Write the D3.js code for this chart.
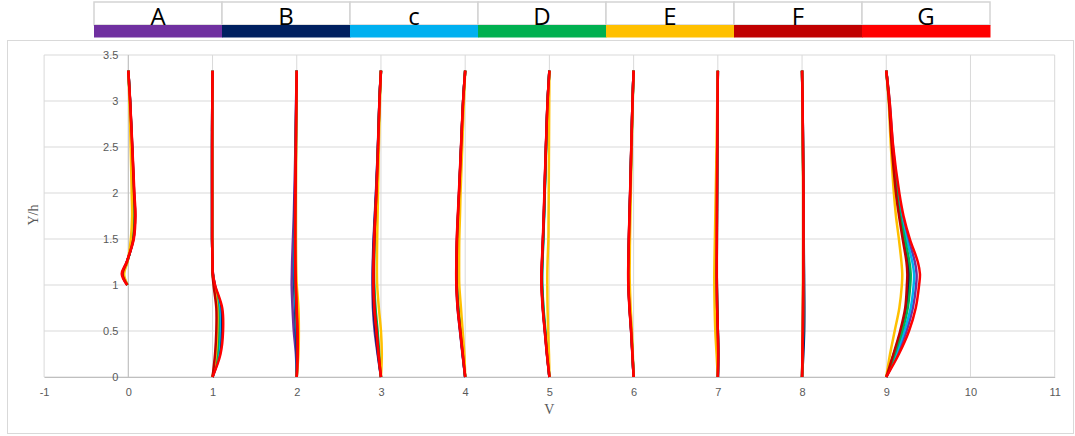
<!DOCTYPE html>
<html>
<head>
<meta charset="utf-8">
<script src="https://cdn.jsdelivr.net/npm/d3@7"></script>
<style>
  body { margin: 0; background: #fff; }
  svg { display: block; }
</style>
</head>
<body>
<svg id="chart" width="1075" height="436"></svg>
<script>
// legend names and colours
const seriesNames = ["A", "B", "c", "D", "E", "F", "G"];
const seriesColors = ["#7030A0", "#002060", "#00B0F0", "#00B050", "#FFC000", "#C00000", "#FF0000"];

// x stations (each profile is drawn at station + V offset)
const stations = [0, 1, 2, 3, 4, 5, 6, 7, 8, 9];
// Y/h levels shared by all profiles
const levels = [0, 0.25, 0.5, 0.75, 1, 1.12, 1.25, 1.5, 1.75, 2, 2.5, 3, 3.33];

const xTicks = [-1, 0, 1, 2, 3, 4, 5, 6, 7, 8, 9, 10, 11];
const yTicks = [0, 0.5, 1, 1.5, 2, 2.5, 3, 3.5];

const n = null;
// offsets, one row per station
const profA = [
  [n, n, n, n, -0.012, -0.07, -0.018, 0.06, 0.08, 0.068, 0.046, 0.021, 0],
  [0, 0.085, 0.11, 0.1, 0.028, 0.005, 0, -0.005, -0.005, -0.005, -0.005, -0.003, 0],
  [0, -0.01, -0.035, -0.05, -0.06, -0.058, -0.055, -0.045, -0.035, -0.028, -0.016, -0.008, 0],
  [0, -0.04, -0.075, -0.095, -0.1, -0.1, -0.097, -0.088, -0.074, -0.06, -0.037, -0.019, 0],
  [0, -0.032, -0.062, -0.09, -0.104, -0.106, -0.104, -0.098, -0.086, -0.073, -0.049, -0.024, 0],
  [0, -0.03, -0.055, -0.078, -0.092, -0.093, -0.088, -0.076, -0.066, -0.058, -0.041, -0.021, 0],
  [0, -0.015, -0.03, -0.048, -0.061, -0.063, -0.061, -0.056, -0.049, -0.041, -0.027, -0.013, 0],
  [0, 0.003, -0.002, -0.01, -0.014, -0.015, -0.015, -0.014, -0.012, -0.011, -0.008, -0.004, 0],
  [0, 0.006, 0.011, 0.013, 0.015, 0.015, 0.015, 0.016, 0.016, 0.016, 0.011, 0.006, 0],
  [0, 0.13, 0.24, 0.315, 0.355, 0.36, 0.34, 0.26, 0.185, 0.14, 0.08, 0.038, 0]
];
const profB = [
  [n, n, n, n, -0.01, -0.065, -0.015, 0.056, 0.076, 0.065, 0.044, 0.02, 0],
  [0, 0.075, 0.095, 0.09, 0.025, 0.004, 0, -0.005, -0.005, -0.005, -0.005, -0.003, 0],
  [0, 0, -0.01, -0.02, -0.03, -0.03, -0.03, -0.028, -0.024, -0.02, -0.012, -0.006, 0],
  [0, -0.035, -0.065, -0.088, -0.095, -0.095, -0.093, -0.084, -0.071, -0.058, -0.036, -0.018, 0],
  [0, -0.03, -0.058, -0.086, -0.1, -0.102, -0.1, -0.095, -0.084, -0.071, -0.048, -0.024, 0],
  [0, -0.028, -0.052, -0.076, -0.09, -0.09, -0.086, -0.075, -0.065, -0.057, -0.04, -0.021, 0],
  [0, -0.014, -0.028, -0.047, -0.06, -0.062, -0.06, -0.055, -0.048, -0.04, -0.027, -0.013, 0],
  [0, 0.004, -0.001, -0.009, -0.013, -0.014, -0.014, -0.013, -0.012, -0.01, -0.007, -0.003, 0],
  [0, 0.015, 0.025, 0.027, 0.025, 0.024, 0.022, 0.02, 0.019, 0.018, 0.01, 0.005, 0],
  [0, 0.09, 0.175, 0.24, 0.265, 0.27, 0.26, 0.21, 0.16, 0.12, 0.068, 0.033, 0]
];
const profC = [
  [n, n, n, n, -0.01, -0.062, -0.014, 0.054, 0.074, 0.063, 0.043, 0.02, 0],
  [0, 0.065, 0.085, 0.08, 0.022, 0.003, 0, -0.005, -0.005, -0.005, -0.005, -0.003, 0],
  [0, 0.005, 0, -0.012, -0.022, -0.024, -0.025, -0.024, -0.02, -0.017, -0.01, -0.005, 0],
  [0, -0.025, -0.05, -0.072, -0.085, -0.086, -0.085, -0.078, -0.066, -0.053, -0.034, -0.017, 0],
  [0, -0.028, -0.055, -0.083, -0.098, -0.1, -0.099, -0.094, -0.083, -0.07, -0.047, -0.023, 0],
  [0, -0.026, -0.05, -0.073, -0.087, -0.088, -0.084, -0.073, -0.064, -0.056, -0.04, -0.02, 0],
  [0, -0.013, -0.027, -0.045, -0.058, -0.06, -0.058, -0.053, -0.047, -0.04, -0.026, -0.012, 0],
  [0, 0.004, 0, -0.008, -0.012, -0.013, -0.013, -0.012, -0.011, -0.01, -0.007, -0.003, 0],
  [0, 0.007, 0.012, 0.014, 0.015, 0.015, 0.016, 0.016, 0.017, 0.016, 0.011, 0.006, 0],
  [0, 0.115, 0.215, 0.29, 0.325, 0.33, 0.31, 0.24, 0.175, 0.135, 0.075, 0.036, 0]
];
const profD = [
  [n, n, n, n, -0.01, -0.06, -0.013, 0.052, 0.072, 0.062, 0.042, 0.019, 0],
  [0, 0.055, 0.07, 0.065, 0.02, 0.002, 0, -0.005, -0.005, -0.005, -0.005, -0.003, 0],
  [0, 0.008, 0.005, -0.005, -0.015, -0.018, -0.02, -0.02, -0.018, -0.015, -0.01, -0.005, 0],
  [0, -0.02, -0.04, -0.065, -0.08, -0.082, -0.081, -0.075, -0.064, -0.052, -0.033, -0.017, 0],
  [0, -0.026, -0.052, -0.08, -0.096, -0.098, -0.097, -0.092, -0.082, -0.07, -0.047, -0.023, 0],
  [0, -0.025, -0.048, -0.07, -0.085, -0.086, -0.082, -0.072, -0.063, -0.055, -0.039, -0.02, 0],
  [0, -0.013, -0.026, -0.044, -0.057, -0.059, -0.057, -0.052, -0.046, -0.039, -0.026, -0.012, 0],
  [0, 0.004, 0, -0.008, -0.012, -0.013, -0.013, -0.012, -0.011, -0.01, -0.007, -0.003, 0],
  [0, 0.006, 0.011, 0.013, 0.014, 0.015, 0.015, 0.016, 0.016, 0.016, 0.011, 0.006, 0],
  [0, 0.1, 0.19, 0.255, 0.285, 0.29, 0.275, 0.22, 0.165, 0.125, 0.07, 0.034, 0]
];
const profE = [
  [n, n, n, n, -0.01, -0.05, -0.01, 0.03, 0.045, 0.04, 0.028, 0.013, 0],
  [0, 0.04, 0.055, 0.055, 0.018, 0.002, 0, -0.003, -0.003, -0.003, -0.003, -0.002, 0],
  [0, 0.02, 0.025, 0.02, 0, -0.005, -0.008, -0.01, -0.01, -0.01, -0.006, -0.003, 0],
  [0, 0.01, 0, -0.025, -0.045, -0.048, -0.048, -0.045, -0.04, -0.035, -0.025, -0.012, 0],
  [0, -0.01, -0.03, -0.05, -0.07, -0.072, -0.072, -0.07, -0.062, -0.055, -0.035, -0.015, 0],
  [0, -0.005, -0.015, -0.022, -0.025, -0.025, -0.022, -0.012, -0.01, -0.008, -0.005, -0.002, 0],
  [0, -0.01, -0.02, -0.035, -0.045, -0.047, -0.046, -0.043, -0.038, -0.033, -0.022, -0.01, 0],
  [0, -0.015, -0.03, -0.038, -0.042, -0.042, -0.04, -0.035, -0.03, -0.025, -0.015, -0.007, 0],
  [0, 0.004, 0.008, 0.01, 0.011, 0.012, 0.012, 0.013, 0.013, 0.013, 0.009, 0.005, 0],
  [0, 0.045, 0.1, 0.155, 0.185, 0.19, 0.18, 0.15, 0.115, 0.09, 0.055, 0.028, 0]
];
const profF = [
  [n, n, n, n, -0.012, -0.068, -0.017, 0.06, 0.08, 0.068, 0.046, 0.021, 0],
  [0, 0.03, 0.045, 0.045, 0.012, 0, 0, -0.005, -0.005, -0.005, -0.005, -0.003, 0],
  [0, 0.008, 0.006, -0.004, -0.012, -0.015, -0.017, -0.018, -0.017, -0.015, -0.01, -0.005, 0],
  [0, -0.028, -0.052, -0.076, -0.087, -0.088, -0.086, -0.079, -0.067, -0.054, -0.035, -0.018, 0],
  [0, -0.028, -0.057, -0.086, -0.101, -0.103, -0.101, -0.096, -0.085, -0.072, -0.048, -0.024, 0],
  [0, -0.028, -0.053, -0.077, -0.091, -0.092, -0.087, -0.076, -0.066, -0.058, -0.041, -0.021, 0],
  [0, -0.014, -0.029, -0.048, -0.061, -0.063, -0.061, -0.056, -0.049, -0.041, -0.027, -0.013, 0],
  [0, 0.004, 0, -0.008, -0.012, -0.013, -0.013, -0.012, -0.011, -0.01, -0.007, -0.003, 0],
  [0, 0.005, 0.01, 0.012, 0.014, 0.015, 0.015, 0.016, 0.016, 0.016, 0.011, 0.006, 0],
  [0, 0.085, 0.165, 0.225, 0.245, 0.25, 0.24, 0.195, 0.152, 0.115, 0.066, 0.032, 0]
];
const profG = [
  [n, n, n, n, -0.015, -0.078, -0.02, 0.065, 0.085, 0.072, 0.048, 0.022, 0],
  [0, 0.095, 0.125, 0.115, 0.03, 0.005, 0, -0.005, -0.005, -0.005, -0.005, -0.003, 0],
  [0, 0.01, 0.01, 0, -0.01, -0.015, -0.018, -0.02, -0.02, -0.018, -0.012, -0.006, 0],
  [0, -0.03, -0.055, -0.08, -0.09, -0.09, -0.088, -0.08, -0.068, -0.055, -0.035, -0.018, 0],
  [0, -0.03, -0.06, -0.09, -0.105, -0.107, -0.105, -0.1, -0.088, -0.075, -0.05, -0.025, 0],
  [0, -0.03, -0.055, -0.08, -0.095, -0.095, -0.09, -0.078, -0.068, -0.06, -0.042, -0.022, 0],
  [0, -0.015, -0.03, -0.05, -0.063, -0.065, -0.063, -0.057, -0.05, -0.042, -0.028, -0.013, 0],
  [0, 0.005, 0, -0.008, -0.012, -0.013, -0.013, -0.012, -0.011, -0.01, -0.007, -0.003, 0],
  [0, 0.005, 0.01, 0.012, 0.014, 0.015, 0.015, 0.016, 0.017, 0.017, 0.012, 0.006, 0],
  [0, 0.15, 0.27, 0.35, 0.39, 0.4, 0.375, 0.28, 0.205, 0.155, 0.083, 0.04, 0]
];
const profiles = [profA, profB, profC, profD, profE, profF, profG];

const svg = d3.select("#chart");

// outer chart frame
svg.append("rect")
  .attr("x", 7.5).attr("y", 40.5)
  .attr("width", 1066).attr("height", 393)
  .attr("fill", "none")
  .attr("stroke", "#d9d9d9");

// legend strip on top
const legX = d3.scaleBand().domain(seriesNames).range([94, 990]);
const leg = svg.append("g");
leg.selectAll("rect.cell")
  .data(seriesNames)
  .enter().append("rect")
    .attr("class", "cell")
    .attr("x", d => legX(d)).attr("y", 2)
    .attr("width", legX.bandwidth()).attr("height", 23)
    .attr("fill", "#fff")
    .attr("stroke", "#d4d4d4")
    .attr("stroke-width", 1.5);
leg.selectAll("rect.bar")
  .data(seriesNames)
  .enter().append("rect")
    .attr("class", "bar")
    .attr("x", d => legX(d)).attr("y", 25)
    .attr("width", legX.bandwidth() + 0.5).attr("height", 12.5)
    .attr("fill", (d, i) => seriesColors[i]);
leg.selectAll("text")
  .data(seriesNames)
  .enter().append("text")
    .attr("x", d => legX(d) + legX.bandwidth() / 2)
    .attr("y", 25)
    .attr("text-anchor", "middle")
    .style("font-family", "'Open Sans', 'Liberation Sans', sans-serif")
    .style("font-size", "24px")
    .attr("fill", "#000")
    .text(d => d);

// scales
const x = d3.scaleLinear().domain([-1, 11]).range([44.1, 1054.7]);
const y = d3.scaleLinear().domain([0, 3.5]).range([377, 55]);

// gridlines
const grid = svg.append("g");
grid.selectAll("line.v")
  .data(xTicks)
  .enter().append("line")
    .attr("class", "v")
    .attr("x1", d => x(d)).attr("x2", d => x(d))
    .attr("y1", y(0)).attr("y2", y(3.5))
    .attr("stroke", "#d9d9d9");
grid.selectAll("line.h")
  .data(yTicks)
  .enter().append("line")
    .attr("class", "h")
    .attr("x1", x(-1)).attr("x2", x(11))
    .attr("y1", d => y(d)).attr("y2", d => y(d))
    .attr("stroke", "#d9d9d9");

// axes (Excel style, no tick marks)
const xAxis = svg.append("g")
  .attr("transform", `translate(0,${y(0)})`)
  .call(d3.axisBottom(x).tickValues(xTicks).tickSize(0).tickPadding(11).tickFormat(d => String(d)));
const yAxis = svg.append("g")
  .attr("transform", `translate(${x(0)},0)`)
  .call(d3.axisLeft(y).tickValues(yTicks).tickSize(0).tickPadding(10).tickFormat(d => String(d)));
[xAxis, yAxis].forEach(a => {
  a.select(".domain").attr("stroke", "#bfbfbf");
  a.selectAll("text")
    .attr("fill", "#595959")
    .style("font-family", "'Liberation Sans', Arial, sans-serif")
    .style("font-size", "11px");
});
yAxis.select(".domain").attr("d", `M0,${y(0)}V${y(3.5)}`);

// axis titles
svg.append("text")
  .attr("transform", "translate(38,215) rotate(-90)")
  .attr("text-anchor", "middle")
  .style("font-family", "'Liberation Serif', 'DejaVu Serif', serif")
  .style("font-size", "14px")
  .attr("fill", "#595959")
  .text("Y/h");
svg.append("text")
  .attr("x", x(5)).attr("y", 414)
  .attr("text-anchor", "middle")
  .style("font-family", "'Liberation Serif', 'DejaVu Serif', serif")
  .style("font-size", "14px")
  .attr("fill", "#595959")
  .text("V");

// profiles
const line = d3.line()
  .defined(d => d.v != null)
  .x(d => x(d.s + d.v))
  .y(d => y(d.y))
  .curve(d3.curveCatmullRom.alpha(0.5));

const plot = svg.append("g");
profiles.forEach((prof, si) => {
  stations.forEach((s, k) => {
    const pts = levels.map((lv, j) => ({ s: s, y: lv, v: prof[k][j] }));
    plot.append("path")
      .datum(pts.filter(p => p.v != null))
      .attr("d", line)
      .attr("fill", "none")
      .attr("stroke", seriesColors[si])
      .attr("stroke-width", 2.5)
      .attr("stroke-linejoin", "round");
  });
});
</script>
</body>
</html>
